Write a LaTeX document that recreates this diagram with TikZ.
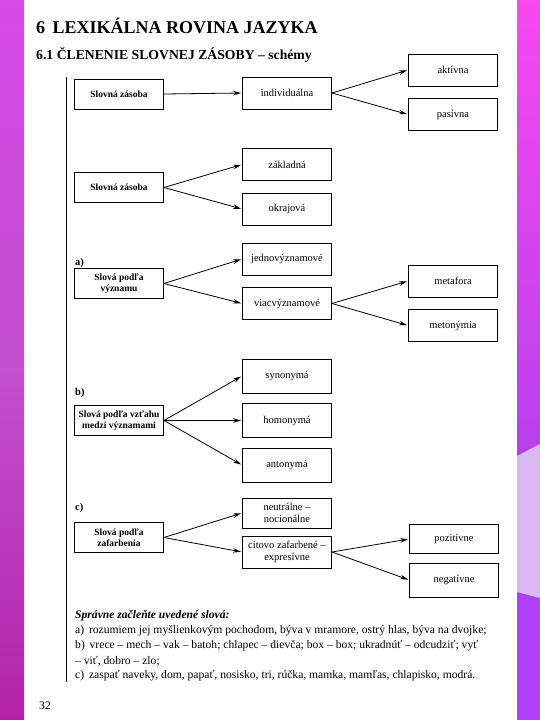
\documentclass[tikz,border=0pt]{standalone}
\usepackage{fontspec}
\setmainfont{Liberation Serif}
\usetikzlibrary{arrows.meta}
\definecolor{leftTop}{RGB}{214,72,232}
\definecolor{leftMid}{RGB}{196,80,208}
\definecolor{leftBot}{RGB}{180,36,168}
\definecolor{rightTop}{RGB}{248,72,240}
\definecolor{rightMid}{RGB}{184,64,236}
\definecolor{rightBot}{RGB}{176,64,246}
\definecolor{lavender}{RGB}{220,184,244}
\begin{document}
\begin{tikzpicture}[x=1pt,y=-1pt,
    box/.style={draw,line width=0.9pt,minimum width=89pt,minimum height=32pt,
      inner sep=1pt,align=center,font=\fontsize{10.5}{12}\selectfont},
    headbox/.style={box,minimum height=30pt,font=\bfseries\fontsize{9.5}{11}\selectfont},
    lbl/.style={anchor=west,inner sep=0pt,font=\bfseries\fontsize{10.5}{12}\selectfont},
    txt/.style={anchor=west,inner sep=0pt,font=\fontsize{11.6}{13}\selectfont},
    arr/.style={-{Stealth[length=8pt,width=4.5pt]},line width=0.8pt,shorten >=1pt}]
  \useasboundingbox (0,0) rectangle (540,720);
  \fill[white] (0,0) rectangle (540,720);
  \shade[top color=leftTop,bottom color=leftBot,middle color=leftMid] (0,0) rectangle (24,720);
  \shade[top color=rightTop,bottom color=rightMid] (517,0) rectangle (540,450);
  \fill[rightBot] (517,450) rectangle (540,720);
  \fill[lavender] (517,456) -- (540,444) -- (540,598) -- (517,592) -- cycle;
  \draw[line width=1.2pt] (66.5,77) -- (66.5,682);
  \draw
    (36,26) node[anchor=west,inner sep=0pt,font=\bfseries\fontsize{18}{20}\selectfont] (title){6\, LEXIKÁLNA ROVINA JAZYKA}
    (36,55) node[anchor=west,inner sep=0pt,font=\bfseries\fontsize{13.7}{15}\selectfont] (subtitle){6.1 ČLENENIE SLOVNEJ ZÁSOBY – schémy}
    (119,94) node[headbox] (sz1){Slovná zásoba}
    (287,93) node[box] (ind){individuálna}
    (453,70) node[box] (akt){aktívna}
    (453,114.5) node[box] (pas){pasívna}
    (119,187.5) node[headbox] (sz2){Slovná zásoba}
    (287,164.5) node[box] (zak){základná}
    (287,209) node[box] (okr){okrajová}
    (75,263) node[lbl] (la){a)}
    (119,283.5) node[headbox] (vyz){Slová podľa\\významu}
    (287,259) node[box] (jed){jednovýznamové}
    (287,303.5) node[box] (via){viacvýznamové}
    (453,281) node[box] (meta){metafora}
    (453,325.5) node[box] (meto){metonýmia}
    (75,393) node[lbl] (lb){b)}
    (119,420.5) node[headbox] (vzt){Slová podľa vzťahu\\medzi významami}
    (287,376) node[box,minimum height=34pt] (syn){synonymá}
    (287,420.5) node[box,minimum height=34pt] (hom){homonymá}
    (287,465) node[box,minimum height=34pt] (ant){antonymá}
    (75,508) node[lbl] (lc){c)}
    (119,537.5) node[headbox] (zaf){Slová podľa\\zafarbenia}
    (287,513) node[box,minimum height=30pt] (neu){neutrálne –\\nocionálne}
    (287,552) node[box] (cit){citovo zafarbené –\\expresívne}
    (454,539) node[box,minimum height=29pt] (poz){pozitívne}
    (454,580) node[box,minimum height=34pt] (neg){negatívne}
    (75,616) node[txt,font=\bfseries\itshape\fontsize{11.6}{13}\selectfont] (task){Správne začleňte uvedené slová:}
    (75,631) node[txt] (ta){a)\, rozumiem jej myšlienkovým pochodom, býva v mramore, ostrý hlas, býva na dvojke;}
    (75,646) node[txt] (tb){b)\, vrece – mech – vak – batoh; chlapec – dievča; box – box; ukradnúť – odcudziť; vyť}
    (75,661) node[txt] (tb2){– viť, dobro – zlo;}
    (75,676) node[txt] (tc){c)\, zaspať naveky, dom, papať, nosisko, tri, rúčka, mamka, mamľas, chlapisko, modrá.}
    (39,706) node[txt] (page){32};
  \begin{scope}[arr]
    \draw (sz1.east) to (ind.west);
    \draw (ind.east) to (akt.west);
    \draw (ind.east) to (pas.west);
    \draw (sz2.east) to (zak.west);
    \draw (sz2.east) to (okr.west);
    \draw (vyz.east) to (jed.west);
    \draw (vyz.east) to (via.west);
    \draw (via.east) to (meta.west);
    \draw (via.east) to (meto.west);
    \draw (vzt.east) to (syn.west);
    \draw (vzt.east) to (hom.west);
    \draw (vzt.east) to (ant.west);
    \draw (zaf.east) to (neu.west);
    \draw (zaf.east) to (cit.west);
    \draw (cit.east) to (poz.west);
    \draw (cit.east) to (neg.west);
  \end{scope}
\end{tikzpicture}
\end{document}
